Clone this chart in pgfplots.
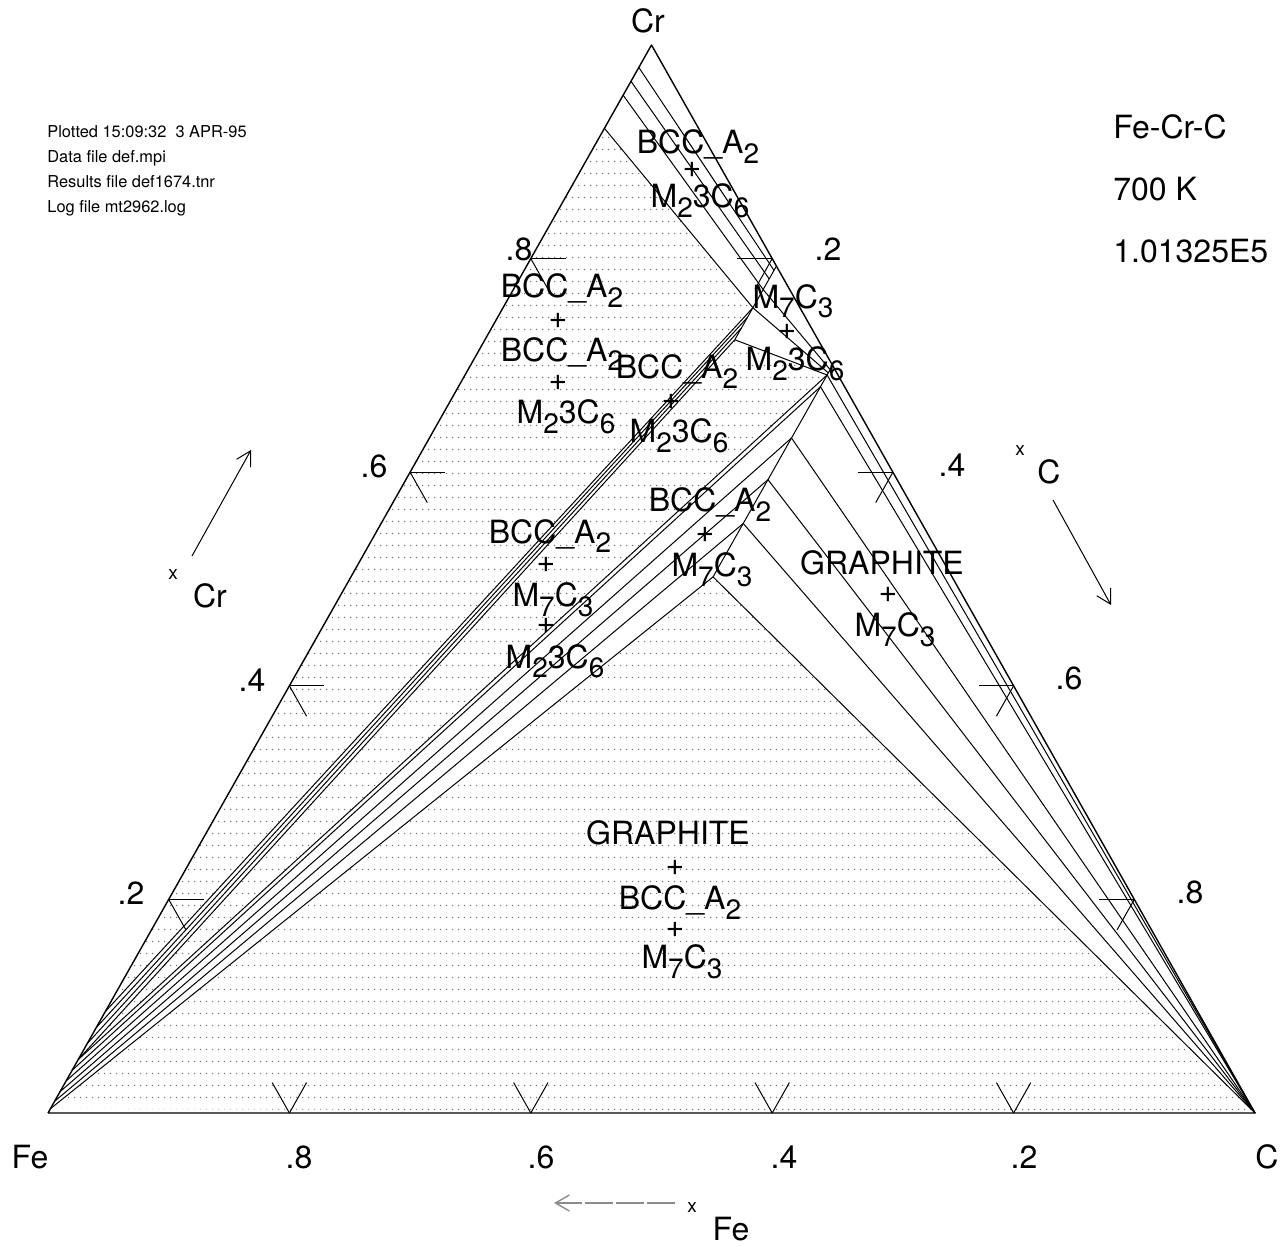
\documentclass[border=0pt]{standalone}
\usepackage{fontspec}
\setmainfont{TeX Gyre Heros}
\usepackage{pgfplots}
\pgfplotsset{compat=1.18}
\usepackage{pgfplotstable}
\usetikzlibrary{patterns,arrows.meta}

% sparse dot shading used for the three-phase triangles
\pgfdeclarepatternformonly{tcdots}{\pgfqpoint{0pt}{0pt}}{\pgfqpoint{3pt}{6pt}}{\pgfqpoint{3pt}{6pt}}%
  {\pgfpathcircle{\pgfqpoint{1.5pt}{3pt}}{0.42pt}\pgfusepath{fill}}

\newcommand{\lab}{\fontsize{16}{19}\selectfont}
\newcommand{\sub}[1]{\raisebox{-5pt}{\fontsize{14}{14}\selectfont #1}}
\newcommand{\BCC}{BCC\_A\sub{2}}
\newcommand{\Mtc}{M\sub{2}3C\sub{6}}
\newcommand{\Msc}{M\sub{7}C\sub{3}}

% tie lines and phase boundaries: mole fractions (Cr, C) of both ends
\pgfplotstableread{
Cr1 C1 Cr2 C2
0.979 0 0.789 0.207
0.966 0 0.781 0.207
0.953 0 0.771 0.207
0.922 0 0.754 0.207
0.793 0.207 0.724 0.207
0.095 0 0.754 0.207
0.080 0 0.745 0.207
0.065 0 0.735 0.207
0.050 0 0.724 0.207
0.724 0.207 0.691 0.300
0.754 0.207 0.693 0.300
0.771 0.207 0.696 0.300
0.700 0.300 0.502 0.300
0.050 0 0.691 0.300
0.040 0 0.680 0.300
0.030 0 0.632 0.300
0.020 0 0.593 0.300
0.011 0 0.552 0.300
0.004 0 0.502 0.300
0.691 0.300 0 1
0.680 0.300 0 1
0.632 0.300 0 1
0.593 0.300 0 1
0.552 0.300 0 1
0.502 0.300 0 1
}\tielines

% composition tick marks on the three edges
\pgfplotstableread{
Cr1 C1 Cr2 C2
0.2 0 0.2 0.029
0.2 0 0.1715 0.0285
0.4 0 0.4 0.029
0.4 0 0.3715 0.0285
0.6 0 0.6 0.029
0.6 0 0.5715 0.0285
0.8 0 0.8 0.029
0.8 0 0.7715 0.0285
0.8 0.2 0.8 0.171
0.8 0.2 0.7715 0.2
0.6 0.4 0.6 0.371
0.6 0.4 0.5715 0.4
0.4 0.6 0.4 0.571
0.4 0.6 0.3715 0.6
0.2 0.8 0.2 0.771
0.2 0.8 0.1715 0.8
0 0.2 0.0285 0.1715
0 0.2 0.0285 0.2
0 0.4 0.0285 0.3715
0 0.4 0.0285 0.4
0 0.6 0.0285 0.5715
0 0.6 0.0285 0.6
0 0.8 0.0285 0.7715
0 0.8 0.0285 0.8
}\ticksegs

\pgfplotsset{
  seg/.style={quiver={
    u=\thisrow{C2}+0.5*\thisrow{Cr2}-\thisrow{C1}-0.5*\thisrow{Cr1},
    v=\thisrow{Cr2}-\thisrow{Cr1}}},
}

\begin{document}
\begin{tikzpicture}
\begin{axis}[
  at={(0pt,0pt)}, anchor=north west,
  scale only axis, width=641pt, height=623.5pt,
  xmin=-0.039768, xmax=1.022370,
  ymin=-0.125468, ymax=1.042135,
  hide axis, clip=false,
]
% three-phase triangles
\addplot[draw=none, pattern=tcdots, pattern color=black!55]
  table[x expr=\thisrow{C}+0.5*\thisrow{Cr}, y expr=\thisrow{Cr}] {
Cr C
0.922 0
0.095 0
0.754 0.207
};
\addplot[draw=none, pattern=tcdots, pattern color=black!55]
  table[x expr=\thisrow{C}+0.5*\thisrow{Cr}, y expr=\thisrow{Cr}] {
Cr C
0.050 0
0.724 0.207
0.691 0.300
};
\addplot[draw=none, pattern=tcdots, pattern color=black!55]
  table[x expr=\thisrow{C}+0.5*\thisrow{Cr}, y expr=\thisrow{Cr}] {
Cr C
0.004 0
0.502 0.300
0 1
};
% tie lines
\addplot[black, line width=0.5pt, seg]
  table[x expr=\thisrow{C1}+0.5*\thisrow{Cr1}, y expr=\thisrow{Cr1}] \tielines;
% ticks
\addplot[black, line width=0.5pt, seg]
  table[x expr=\thisrow{C1}+0.5*\thisrow{Cr1}, y expr=\thisrow{Cr1}] \ticksegs;
% triangle frame
\addplot[black, line width=0.7pt, line join=round]
  table[x expr=\thisrow{C}+0.5*\thisrow{Cr}, y expr=\thisrow{Cr}] {
Cr C
0 0
0 1
1 0
0 0
};
\end{axis}

\begin{scope}[x=0.5pt, y=-0.5pt, every node/.style={inner sep=0pt, font=\lab}]
\path (0,0) rectangle (1282,1247);
% corners
\node[anchor=base] at (648,33) {Cr};
\node[anchor=base] at (30,1168) {Fe};
\node[anchor=base] at (1267,1168) {C};
% edge numbers
\node[anchor=base] at (299,1168) {.8};
\node[anchor=base] at (541,1168) {.6};
\node[anchor=base] at (784,1168) {.4};
\node[anchor=base] at (1024,1168) {.2};
\node[anchor=base] at (519,261) {.8};
\node[anchor=base] at (374,477) {.6};
\node[anchor=base] at (252,691) {.4};
\node[anchor=base] at (131,904) {.2};
\node[anchor=base] at (828,261) {.2};
\node[anchor=base] at (952,476) {.4};
\node[anchor=base] at (1069,689) {.6};
\node[anchor=base] at (1190,903) {.8};
% axis names
\draw[line width=0.5pt, -{Straight Barb[length=7pt,width=8pt]}] (192,556) -- (251,450);
\node[font=\fontsize{9.5}{10}\selectfont] at (173,575) {x};
\node[anchor=base] at (210,607) {Cr};
\draw[line width=0.5pt, -{Straight Barb[length=7pt,width=8pt]}] (1053,500) -- (1111,605);
\node[font=\fontsize{9.5}{10}\selectfont] at (1020,451) {x};
\node[anchor=base] at (1049,483) {C};
\draw[black!45, line width=0.7pt, dash pattern=on 14pt off 1.5pt, -{Straight Barb[length=7pt,width=8pt]}] (675,1203) -- (554,1203);
\node[font=\fontsize{9.5}{10}\selectfont] at (692,1208) {x};
\node[anchor=base] at (731,1240) {Fe};
% conditions
\node[anchor=base west] at (1113,139) {Fe-Cr-C};
\node[anchor=base west] at (1113,201) {700 K};
\node[anchor=base west] at (1113,263) {1.01325E5};
% plot header
\begin{scope}[every node/.style={inner sep=0pt, anchor=base west, font=\fontsize{8.2}{9}\selectfont}]
\node at (47,138) {Plotted 15:09:32\ \ 3 APR-95};
\node at (47,163) {Data file def.mpi};
\node at (47,188) {Results file def1674.tnr};
\node at (47,213) {Log file mt2962.log};
\end{scope}
% phase field labels
\node[anchor=base] at (698,154) {\BCC};
\node at (692,170) {+};
\node[anchor=base] at (700,208) {\Mtc};
\node[anchor=base] at (793,308) {\Msc};
\node at (787,332) {+};
\node[anchor=base] at (795,371) {\Mtc};
\node[anchor=base] at (562,298) {\BCC};
\node at (558,321) {+};
\node[anchor=base] at (562,361) {\BCC};
\node at (558,383) {+};
\node[anchor=base] at (566,423) {\Mtc};
\node[anchor=base] at (677,379) {\BCC};
\node at (671,402) {+};
\node[anchor=base] at (679,443) {\Mtc};
\node[anchor=base] at (710,511) {\BCC};
\node at (705,535) {+};
\node[anchor=base] at (712,576) {\Msc};
\node[anchor=base] at (550,543) {\BCC};
\node at (546,565) {+};
\node[anchor=base] at (553,606) {\Msc};
\node at (546,626) {+};
\node[anchor=base] at (555,668) {\Mtc};
\node[anchor=base] at (882,574) {GRAPHITE};
\node at (888,595) {+};
\node[anchor=base] at (895,636) {\Msc};
\node[anchor=base] at (668,844) {GRAPHITE};
\node at (675,868) {+};
\node[anchor=base] at (680,909) {\BCC};
\node at (675,930) {+};
\node[anchor=base] at (682,968) {\Msc};
\end{scope}
\end{tikzpicture}
\end{document}
